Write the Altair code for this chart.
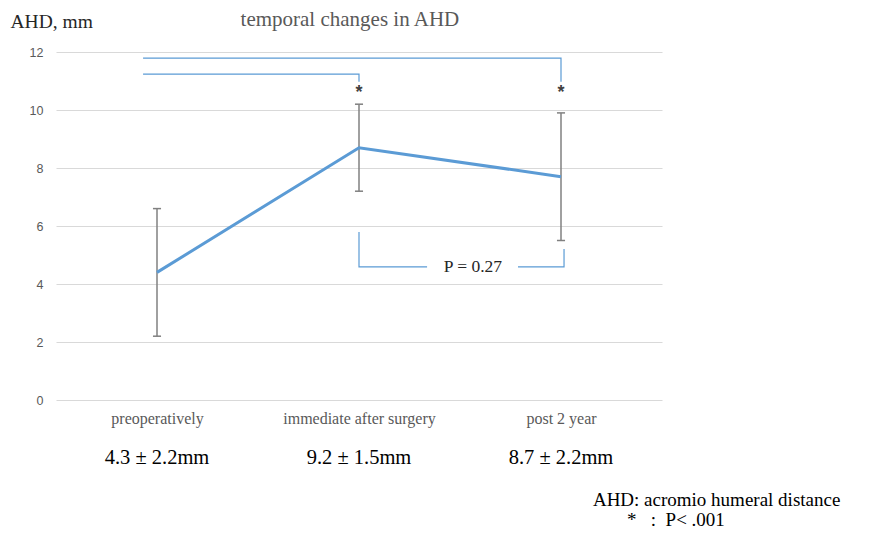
import json
import altair as alt
import pandas as pd

# ---- data ----
categories = ["preoperatively", "immediate after surgery", "post 2 year"]
cat_pos = [0, 1, 2]
means = [4.4, 8.7, 7.7]
err_low = [2.2, 7.2, 5.5]
err_high = [6.6, 10.2, 9.9]
summary_labels = ["4.3 ± 2.2mm", "9.2 ± 1.5mm", "8.7 ± 2.2mm"]
summary_y = [-2.0, -2.0, -2.0]

# significance brackets (data units)
bracket_id = ["a", "a", "a", "b", "b", "b", "c", "c", "c", "d", "d", "d"]
bracket_x = [-0.069, 1.0, 1.0, -0.069, 2.0, 2.0, 1.0, 1.0, 1.337, 1.787, 2.015, 2.015]
bracket_y = [11.24, 11.24, 10.97, 11.79, 11.79, 10.97, 5.79, 4.59, 4.59, 4.59, 4.59, 5.21]
bracket_ord = [0, 1, 2, 0, 1, 2, 0, 1, 2, 0, 1, 2]

star_x = [1.0, 2.0]
star_y = [10.7, 10.7]

p_text = ["P = 0.27"]
p_x = [1.564]
p_y = [4.59]

title_text = ["temporal changes in AHD"]
title_x = [0.955]
title_y = [13.1]

foot_text = ["AHD: acromio humeral distance",
             "*\u00a0\u00a0\u00a0:\u00a0\u00a0P<\u00a0.001"]
foot_x = [2.158, 2.327]
foot_y = [-3.45, -4.14]

df = pd.DataFrame({"x": cat_pos, "cat": categories, "mean": means,
                   "lo": err_low, "hi": err_high,
                   "lab": summary_labels, "ly": summary_y})
df["xl"] = df["x"] - 0.02
df["xr"] = df["x"] + 0.02

br = pd.DataFrame({"id": bracket_id, "x": bracket_x, "y": bracket_y, "o": bracket_ord})
stars = pd.DataFrame({"x": star_x, "y": star_y})
pdf = pd.DataFrame({"t": p_text, "x": p_x, "y": p_y})
tdf = pd.DataFrame({"t": title_text, "x": title_x, "y": title_y})
foot = pd.DataFrame({"t": foot_text, "x": foot_x, "y": foot_y})

serif = "Liberation Serif"
label_expr = json.dumps(categories) + "[datum.value]"

xscale = alt.Scale(domain=[-0.5, 2.5], nice=False, zero=False)
yscale = alt.Scale(domain=[0, 12], nice=False)

x_axis = alt.Axis(values=cat_pos, labelExpr=label_expr, grid=False, domain=False,
                  ticks=False, title=None, labelFont=serif, labelFontSize=16,
                  labelColor="#595959", labelPadding=10)
y_axis = alt.Axis(values=[0, 2, 4, 6, 8, 10, 12], grid=True, gridColor="#d9d9d9",
                  domain=False, ticks=False, labelFont="Liberation Sans",
                  labelFontSize=12.5, labelColor="#595959", labelPadding=13,
                  title="AHD, mm", titleAngle=0, titleFont=serif, titleFontSize=19.5,
                  titleFontWeight="normal", titleColor="#262626",
                  titleAlign="left", titleBaseline="alphabetic",
                  titleX=-46, titleY=-25)

base = alt.Chart(df)

err = base.mark_rule(color="#808080", strokeWidth=1.5).encode(
    x=alt.X("x:Q", scale=xscale, axis=x_axis),
    y=alt.Y("lo:Q", scale=yscale, axis=y_axis),
    y2="hi:Q")
cap_lo = base.mark_rule(color="#808080", strokeWidth=1.5).encode(
    x=alt.X("xl:Q", scale=xscale), x2="xr:Q", y=alt.Y("lo:Q", scale=yscale))
cap_hi = base.mark_rule(color="#808080", strokeWidth=1.5).encode(
    x=alt.X("xl:Q", scale=xscale), x2="xr:Q", y=alt.Y("hi:Q", scale=yscale))

line = base.mark_line(color="#5B9BD5", strokeWidth=3).encode(
    x=alt.X("x:Q", scale=xscale), y=alt.Y("mean:Q", scale=yscale))

summ = base.mark_text(font=serif, fontSize=20.5, color="#000000", baseline="middle").encode(
    x=alt.X("x:Q", scale=xscale), y=alt.Y("ly:Q", scale=yscale), text="lab:N")

brackets = alt.Chart(br).mark_line(color="#5B9BD5", strokeWidth=1.2).encode(
    x=alt.X("x:Q", scale=xscale), y=alt.Y("y:Q", scale=yscale),
    detail="id:N", order="o:Q")

star = alt.Chart(stars).mark_text(text="*", fontSize=18, fontWeight="bold",
                                  color="#404040", baseline="middle",
                                  font="Liberation Sans", dy=3).encode(
    x=alt.X("x:Q", scale=xscale), y=alt.Y("y:Q", scale=yscale))

ptxt = alt.Chart(pdf).mark_text(font=serif, fontSize=17.5, color="#262626",
                                baseline="middle").encode(
    x=alt.X("x:Q", scale=xscale), y=alt.Y("y:Q", scale=yscale), text="t:N")

ttl = alt.Chart(tdf).mark_text(font=serif, fontSize=21, color="#595959",
                               baseline="middle").encode(
    x=alt.X("x:Q", scale=xscale), y=alt.Y("y:Q", scale=yscale), text="t:N")

foottxt = alt.Chart(foot).mark_text(font=serif, fontSize=19, color="#000000",
                                    baseline="middle", align="left").encode(
    x=alt.X("x:Q", scale=xscale), y=alt.Y("y:Q", scale=yscale), text="t:N")

chart = alt.layer(err, cap_lo, cap_hi, brackets, line, star, ptxt, summ, ttl, foottxt).properties(
    width=606, height=348,
    autosize=alt.AutoSizeParams(type="none"),
    padding={"left": 48, "top": 44, "right": 204, "bottom": 132},
).configure_view(stroke=None)

chart.save("out.html", embed_options={"renderer": "svg", "actions": False})
